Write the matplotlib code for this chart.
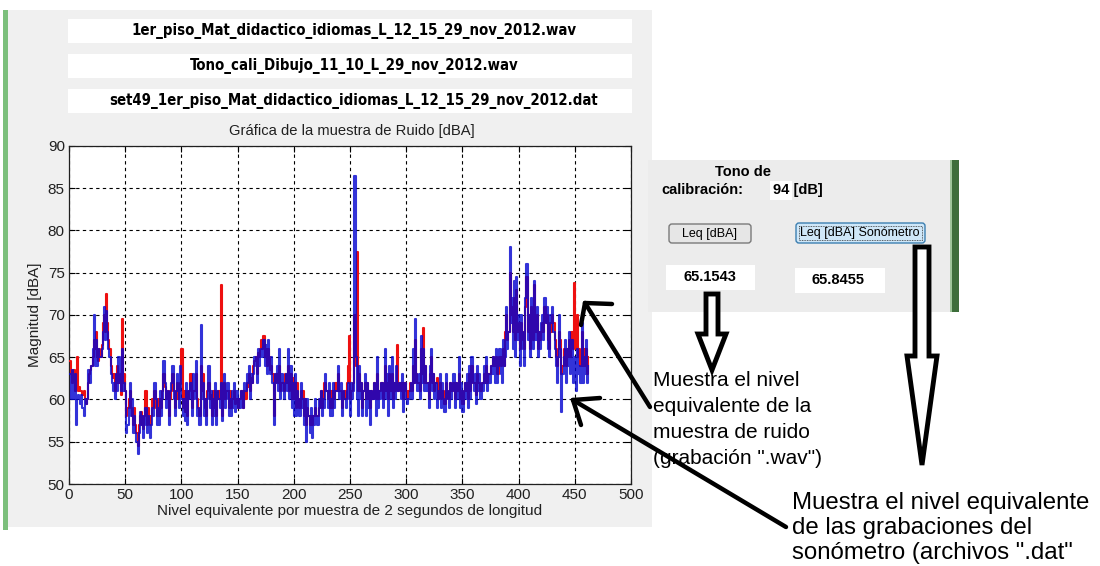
import os
import numpy as np
import matplotlib
matplotlib.use("Agg")
import matplotlib.pyplot as plt
from matplotlib.patches import Rectangle, FancyBboxPatch, Polygon
from matplotlib import font_manager
from matplotlib.font_manager import FontProperties

# ---------------- data ----------------
xlim = [0, 500]
ylim = [50, 90]
xticks = [0, 50, 100, 150, 200, 250, 300, 350, 400, 450, 500]
yticks = [50, 55, 60, 65, 70, 75, 80, 85, 90]

leq_dat = [  # blue: sonometro (.dat)
    63, 60, 63.5, 60, 63, 57, 60, 60.5, 60, 59.5,
    60.5, 59, 58, 60, 59.5, 60, 63.5, 63, 62, 64,
    66, 70, 64, 67, 64, 66, 65, 65, 66, 68,
    71, 67, 70.5, 68, 66, 65, 63, 62, 61, 62,
    60, 63, 61, 65, 62, 61, 66, 61, 62, 61,
    56, 57, 59, 62, 58, 60, 56, 58, 56, 55,
    53.5, 56, 58.5, 57, 58, 55.5, 57, 59, 56, 58,
    57, 55.5, 57, 59, 58, 62, 60, 57, 59, 57,
    61, 58, 60, 64.5, 62, 59, 61, 60, 57, 61,
    62, 64, 60, 58, 61, 63, 61, 59, 64, 60,
    58, 60, 57.5, 62, 57, 61, 60, 62, 58, 63,
    60, 62, 64.5, 58, 59, 57, 68.8, 60, 62, 58,
    60, 57, 60, 64, 59, 61, 57, 60, 58, 62,
    57, 61, 60, 59, 62, 57.5, 61, 63, 59, 60,
    62, 58, 60, 58, 61, 59, 62, 58.5, 61, 59,
    60, 59, 61, 60, 59, 62, 61, 63, 62, 64,
    60, 63, 62, 63, 65, 64, 62, 66, 64, 65,
    66, 65, 67, 64, 66.5, 63, 67, 64, 63, 65,
    62, 57, 63, 62, 64, 61, 66, 60, 63, 61,
    60, 62, 63, 61, 66, 60, 64, 59, 62, 58,
    63, 58, 61, 60, 58, 62, 59, 60, 57, 60,
    55, 60, 58, 56, 59, 55.5, 58, 57, 60, 58,
    57, 60, 59, 61, 58, 60, 59, 63, 61, 59,
    62, 58, 60, 58, 62, 59, 61, 61, 64, 60,
    60, 62, 58, 61, 60, 59, 61, 62, 60, 58,
    62, 60, 61, 86.5, 65, 60, 58, 64, 60, 62,
    58, 61, 63, 58, 62, 59, 61, 57, 61, 60,
    62, 60, 58, 65, 59, 61, 60, 62, 59, 61,
    66, 60, 63, 58, 64, 60, 65, 59, 62, 60,
    64, 61, 61, 62, 60, 63, 58.5, 61, 62, 60,
    59.5, 60, 61, 62, 60, 66, 62, 69.5, 63, 61,
    63, 60, 67.5, 62, 66, 61, 64, 61, 62, 59,
    64, 66, 61, 63, 60, 62, 59, 61, 60, 63,
    59, 62, 60, 58.5, 63, 61, 60, 59, 62, 60,
    61, 63, 59, 62, 60, 60.5, 65, 59, 62, 58.5,
    61, 62, 60, 63, 59, 64, 60, 65, 62, 61,
    63, 59.5, 64, 61, 63, 60, 62, 61, 64, 62,
    65, 61, 63, 62, 64, 63, 65, 63, 62, 66,
    62, 64, 66, 63, 62, 67, 64, 65, 71, 66,
    68, 78, 69, 72, 66, 74, 65, 74.5, 67, 70,
    64, 70, 68, 66, 64, 72, 76, 67, 70, 65,
    72, 68, 66, 74, 67, 71, 65, 68, 66, 69,
    70, 67, 72, 69, 71, 66, 65, 70, 69, 71,
    68, 66, 64, 62, 65, 70, 66, 58.5, 63, 65,
    67, 62, 66, 64, 68, 63, 67, 62, 65, 64,
    61, 66, 63, 64, 62, 69, 62, 65, 63, 67, 62, 64,
]

leq_wav = [  # red: grabacion (.wav)
    64.5, 63, 62, 63.5, 61, 62, 65, 61, 61.5, 61,
    61, 60.5, 61, 60, 59.5, 60, 62, 63, 63.5, 64,
    65, 67, 66, 68, 65, 64.5, 66, 65, 66.5, 69,
    70, 68, 72.5, 69, 67, 66, 64, 63, 62.5, 63,
    61, 62, 64, 62, 63, 60.5, 69.5, 62, 63, 61,
    58, 59, 60, 61, 59, 58, 57, 59, 57, 56,
    54.5, 57, 58, 58.5, 57, 56.5, 58, 61, 57, 59,
    58, 57, 58, 60, 59, 61, 59, 58, 60, 58,
    60, 59, 61, 63, 61.5, 60, 60, 61, 58, 60,
    61, 63, 61, 59, 60, 62, 60, 61, 62, 66,
    59, 61, 58.5, 61, 58, 60, 61, 63, 59, 61,
    61, 61, 63, 60, 59, 58, 64, 61, 63, 60,
    59, 58, 61, 62, 60, 60.5, 58, 61, 59, 61,
    58, 60, 61, 60, 73.5, 58, 60, 62, 60, 61,
    61, 59, 61, 59, 60, 60, 61, 59.5, 60, 59,
    60, 60, 61, 61, 59, 61, 60, 62, 61.5, 63,
    61, 62.5, 62, 64, 64.5, 65, 63, 65.5, 65, 66,
    67, 66, 67.5, 65, 66, 64, 66, 65, 63.5, 64,
    63, 58, 62, 63, 63, 62, 64, 61, 62, 62,
    61, 63, 62, 62, 64, 61, 63, 60, 62.5, 60,
    62, 59, 62, 60, 59, 61, 60, 61, 58, 60,
    57, 59, 58, 57, 58, 57, 58, 58, 59, 58,
    58, 59, 60, 61, 59, 60, 62, 62, 61, 60,
    61, 59, 61, 59, 61, 60, 62, 61, 63, 61,
    61, 61, 59, 60, 61, 60, 62, 64, 67.5, 60,
    61, 61, 62, 70, 64, 77.5, 61, 63, 61, 62,
    59, 61, 62, 60, 62, 60, 61, 59, 61, 60,
    62, 61, 60, 63, 60, 61, 61, 62, 60, 61,
    64, 61, 62, 60, 63, 61, 63, 60, 62, 61,
    62, 66.5, 61, 62, 61, 62, 60, 62, 62, 61,
    60, 61, 62, 61, 61, 64, 62, 67, 63, 62,
    62, 61, 66, 63, 68.5, 62, 64, 62, 62, 60,
    63, 65, 62, 63, 61, 62, 62.5, 60, 61, 62,
    60, 61, 61, 59.5, 62, 61, 60, 60, 62, 61,
    61, 62, 60, 62, 61, 61, 63, 60, 61, 59.5,
    61, 62, 61, 62, 60, 63, 61, 64, 62, 62,
    62, 60.5, 63, 62, 62, 61, 62, 62, 63, 62,
    64, 62, 63, 63, 64, 64, 65, 64, 64, 65,
    63, 63, 65, 64, 65, 66, 64, 68, 70, 67,
    68, 75, 70, 71, 68, 72, 67, 73, 68, 69,
    66, 69, 68, 67, 66, 71, 74.5, 68, 70, 66,
    71, 68, 67, 73.5, 68, 70, 66, 68, 67, 68,
    69, 68, 71, 69, 70, 67, 66, 69, 68, 70,
    69, 67, 65, 64, 66, 68, 67, 63, 64, 66,
    65, 64, 66, 65, 67, 65, 68, 66, 73.8, 67,
    66, 70, 65, 66, 64, 68, 64, 66, 64, 66, 63, 65,
]

header_files = [
    "1er_piso_Mat_didactico_idiomas_L_12_15_29_nov_2012.wav",
    "Tono_cali_Dibujo_11_10_L_29_nov_2012.wav",
    "set49_1er_piso_Mat_didactico_idiomas_L_12_15_29_nov_2012.dat",
]
title = "Gráfica de la muestra de Ruido [dBA]"
xlabel = "Nivel equivalente por muestra de 2 segundos de longitud"
ylabel = "Magnitud [dBA]"
leq_wav_value = "65.1543"
leq_dat_value = "65.8455"
note_wav = ["Muestra el nivel", "equivalente de la", "muestra de ruido", '(grabación ".wav")']
note_dat = ["Muestra el nivel equivalente", "de las grabaciones del", 'sonómetro (archivos ".dat"']

# ---------------- fonts ----------------
ARIAL = "Liberation Sans"
plt.rcParams['font.family'] = [ARIAL, 'DejaVu Sans']


def narrow_bold_font():
    """Look for an installed narrow/condensed bold sans font file."""
    prefs = ["liberation sans narrow", "arial narrow", "dejavu sans condensed",
             "roboto condensed", "open sans condensed", "noto sans condensed"]
    found = []
    for f in font_manager.fontManager.ttflist:
        name = f.name.lower()
        base = os.path.basename(f.fname).lower()
        is_bold = (str(f.weight) in ("bold", "700", "heavy", "800")) or "bold" in base
        if not is_bold or "italic" in base or "oblique" in base:
            continue
        cond = ("narrow" in name or "condensed" in name or "narrow" in base
                or "condensed" in base or str(f.stretch) in ("condensed", "semi-condensed"))
        if not cond or "mono" in name or ("serif" in name and "sans" not in name):
            continue
        rank = len(prefs)
        for i, p in enumerate(prefs):
            if p in name or p.replace(" ", "") in base:
                rank = i
                break
        found.append((rank, f.fname))
    if found:
        found.sort()
        return FontProperties(fname=found[0][1])
    return None


nb = narrow_bold_font()
if nb is not None:
    header_fp = nb
    header_size = 10.7
else:
    header_fp = FontProperties(family=ARIAL, weight="bold")
    header_size = 11

W, H = 1100, 566
fig = plt.figure(figsize=(W / 100, H / 100), dpi=100)
fig.patch.set_facecolor("white")


def fx(px):
    return px / W


def fy(py):
    return 1 - py / H


# background layer (pixel coords, y down)
bg = fig.add_axes([0, 0, 1, 1], zorder=0)
bg.set_xlim(0, W); bg.set_ylim(H, 0); bg.axis("off")

# main GUI panel
bg.add_patch(Rectangle((8, 10), 644, 517, fc="#f0f0f0", ec="none"))
bg.add_patch(Rectangle((3, 10), 5, 520, fc="#7cbf7c", ec="none"))
# header boxes
for txt, yc in zip(header_files, [31, 66, 101]):
    bg.add_patch(Rectangle((68, yc - 12), 564, 24, fc="white", ec="none"))
    bg.text(354, yc, txt, ha="center", va="center", fontproperties=header_fp,
            fontsize=header_size, color="black")
bg.text(352, 131, title, ha="center", va="center", fontsize=10.6,
        family=ARIAL, color="#202020")

# right panel
bg.add_patch(Rectangle((648, 160), 304, 152, fc="#ececec", ec="none"))
bg.add_patch(Rectangle((950, 160), 9, 152, fc="#3d6e3a", ec="none"))
bg.add_patch(Rectangle((950, 160), 2, 152, fc="#9fc59a", ec="none"))
bg.text(743, 172, "Tono de", ha="center", va="center", fontsize=10.5,
        fontweight="bold", family=ARIAL)
bg.text(702, 190, "calibración:", ha="center", va="center", fontsize=10.5,
        fontweight="bold", family=ARIAL)
bg.add_patch(Rectangle((770, 181), 22, 19, fc="white", ec="none"))
bg.text(773, 190, "94 [dB]", ha="left", va="center", fontsize=10.5,
        fontweight="bold", family=ARIAL)
# buttons
bg.add_patch(FancyBboxPatch((669, 224), 82, 19, boxstyle="round,pad=0,rounding_size=3",
                            fc="#e6e6e6", ec="#7a7a7a", lw=1))
bg.text(710, 233.5, "Leq [dBA]", ha="center", va="center", fontsize=9, family=ARIAL)
bg.add_patch(FancyBboxPatch((796, 223), 129, 20, boxstyle="round,pad=0,rounding_size=3",
                            fc="#cfe7f8", ec="#3c7fb1", lw=1))
bg.add_patch(Rectangle((799, 226), 123, 14, fc="none", ec="#333333", lw=0.6, ls=(0, (1, 1))))
bg.text(860, 233, "Leq [dBA] Sonómetro", ha="center", va="center", fontsize=9, family=ARIAL)
# value boxes
bg.add_patch(Rectangle((666, 265), 89, 25, fc="white", ec="none"))
bg.text(710, 277, leq_wav_value, ha="center", va="center", fontsize=10.5,
        fontweight="bold", family=ARIAL)
bg.add_patch(Rectangle((795, 268), 90, 25, fc="white", ec="none"))
bg.text(838, 280, leq_dat_value, ha="center", va="center", fontsize=10.5,
        fontweight="bold", family=ARIAL)

# ---------------- plot ----------------
L, R, T, B = 69, 631, 146, 484
ax = fig.add_axes([fx(L), fy(B), fx(R - L), (B - T) / H], zorder=1)
ax.set_facecolor("white")
x_wav = np.arange(1, len(leq_wav) + 1)
x_dat = np.arange(1, len(leq_dat) + 1)
ax.plot(x_wav, leq_wav, color="#ee1010", lw=1.5, drawstyle="steps-post", zorder=3)
ax.plot(x_dat, leq_dat, color="#0606d0", lw=1.5, alpha=0.82, drawstyle="steps-post", zorder=4)
ax.set_xlim(xlim); ax.set_ylim(ylim)
ax.set_xticks(xticks); ax.set_yticks(yticks)
ax.grid(True, color="black", ls=(0, (3, 3)), lw=0.8)
ax.set_axisbelow(True)
ax.tick_params(direction="in", length=4, width=0.8, labelsize=11, pad=3,
               top=True, right=True, labelcolor="#202020")
for s in ax.spines.values():
    s.set_linewidth(0.9)
    s.set_color("#202020")
ax.set_xlabel(xlabel, fontsize=11, color="#202020", labelpad=1)
ax.set_ylabel(ylabel, fontsize=11, color="#202020", labelpad=4)

# ---------------- annotation overlay ----------------
fg = fig.add_axes([0, 0, 1, 1], zorder=5)
fg.set_xlim(0, W); fg.set_ylim(H, 0); fg.axis("off")
fg.patch.set_alpha(0)

# hollow block arrows
fg.add_patch(Polygon([(706, 294), (718, 294), (718, 334), (726, 334), (712, 370),
                      (698, 334), (706, 334)], closed=True, fc="white", ec="black", lw=3.5,
                     joinstyle="miter"))
fg.add_patch(Polygon([(915, 247), (929, 247), (929, 356), (937, 356), (922, 465),
                      (907, 356), (915, 356)], closed=True, fc="white", ec="black", lw=3.5,
                     joinstyle="miter"))

# line arrows
fg.plot([650, 585], [407, 303], color="black", lw=3.2, solid_capstyle="round")
fg.plot([585, 612], [303, 304], color="black", lw=3.2, solid_capstyle="round")
fg.plot([585, 581], [303, 325], color="black", lw=3.2, solid_capstyle="round")

fg.plot([786, 573], [527, 400], color="black", lw=3.2, solid_capstyle="round")
fg.plot([573, 600], [400, 398], color="black", lw=3.2, solid_capstyle="round")
fg.plot([573, 581], [400, 425], color="black", lw=3.2, solid_capstyle="round")

for i, line in enumerate(note_wav):
    fg.text(653, 381 + i * 26.0, line, ha="left", va="center", fontsize=15,
            family=ARIAL, color="black")
for i, line in enumerate(note_dat):
    fg.text(792, 503 + i * 25.0, line, ha="left", va="center", fontsize=17.3,
            family=ARIAL, color="black")

fig.savefig("out.png", dpi=100, facecolor="white")
